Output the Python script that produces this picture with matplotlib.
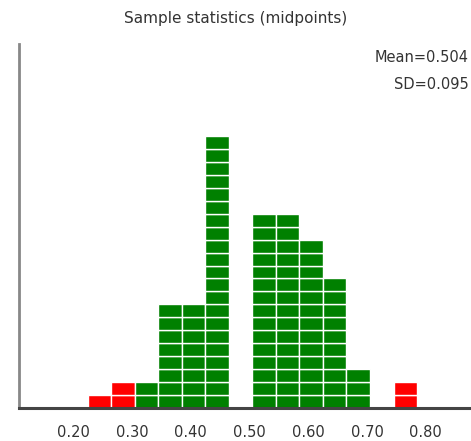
import matplotlib
matplotlib.use("Agg")
import matplotlib.pyplot as plt

# midpoints of the sample-statistic intervals and how many samples fall in each
midpoints = [0.245, 0.285, 0.325, 0.365, 0.405, 0.445, 0.485,
             0.525, 0.565, 0.605, 0.645, 0.685, 0.725, 0.765]
counts = [1, 2, 2, 8, 8, 21, 0, 15, 15, 13, 10, 3, 0, 2]
outside = [True, True, False, False, False, False, False,
           False, False, False, False, False, False, True]
tick_vals = [0.20, 0.30, 0.40, 0.50, 0.60, 0.70, 0.80]
stats_text = ["Mean=0.504", "SD=0.095"]

fig = plt.figure(figsize=(4.71, 4.41), dpi=100)
ax = fig.add_axes([19 / 471, 33 / 441, 452 / 471, 364 / 441])

for x, n, red in zip(midpoints, counts, outside):
    col = "#ff0000" if red else "#008000"
    for k in range(n):
        ax.bar(x, 1, bottom=k, width=0.0397, color=col,
               edgecolor="white", linewidth=1.0)

ax.set_xlim(0.108, 0.877)
ax.set_ylim(0, 28.1)
ax.set_xticks(tick_vals)
ax.set_xticklabels(["%.2f" % v for v in tick_vals])
ax.tick_params(axis="x", length=0, pad=12, labelsize=10.5, labelcolor="#333333")
ax.set_yticks([])
ax.spines["top"].set_visible(False)
ax.spines["right"].set_visible(False)
ax.spines["left"].set_color("#888888")
ax.spines["left"].set_linewidth(2)
ax.spines["bottom"].set_color("#444444")
ax.spines["bottom"].set_linewidth(2.2)

fig.text(0.5, 1 - 23 / 441, "Sample statistics (midpoints)", ha="center",
         va="baseline", fontsize=11, color="#333333")
fig.text(469 / 471, 1 - 62 / 441, stats_text[0], ha="right", va="baseline",
         fontsize=10.5, color="#333333")
fig.text(469 / 471, 1 - 89 / 441, stats_text[1], ha="right", va="baseline",
         fontsize=10.5, color="#333333")

fig.savefig("out.png", dpi=100)
